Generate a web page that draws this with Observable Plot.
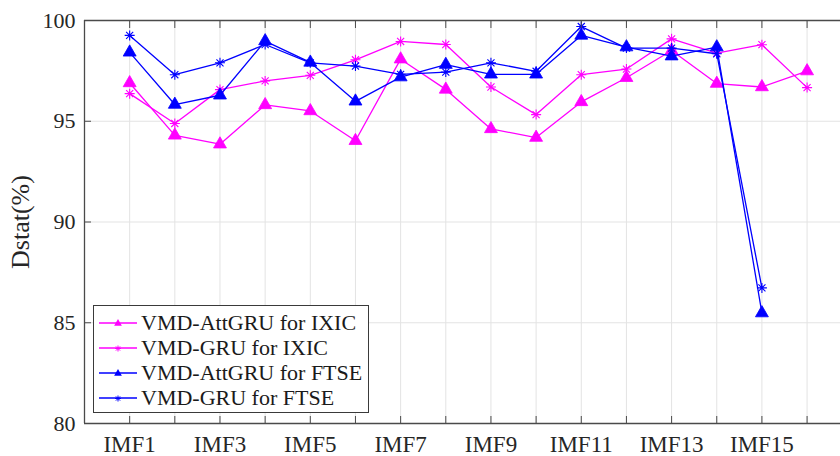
<!DOCTYPE html>
<html>
<head>
<meta charset="utf-8">
<script src="https://cdn.jsdelivr.net/npm/d3@7"></script>
<script src="https://cdn.jsdelivr.net/npm/@observablehq/plot@0.6"></script>
<style>
  html, body { margin: 0; padding: 0; background: #fff; }
  #wrap { position: relative; width: 840px; height: 456px; font-family: 'Liberation Serif', 'Times New Roman', serif; }
  #chart svg, #chart svg text { font-family: 'Liberation Serif', 'Times New Roman', serif !important; }
  #legend { position: absolute; left: 93px; top: 305px; width: 274px; height: 106px; border: 1px solid #3a3a3a; background: #fff; box-sizing: content-box; }
  #legend .row { position: absolute; left: 0; height: 25px; display: flex; align-items: center; color: #1a1a1a; white-space: nowrap; }
  #legend .row span { font-family: 'Liberation Serif', 'Times New Roman', serif !important; font-size: 22px; }
  #legend .row svg { margin-left: 5px; margin-right: 4px; }
</style>
</head>
<body>
<div id="wrap"><div id="chart"></div><div id="legend"></div></div>
<script>
const categories = ["IMF1","IMF2","IMF3","IMF4","IMF5","IMF6","IMF7","IMF8","IMF9","IMF10","IMF11","IMF12","IMF13","IMF14","IMF15","IMF16"];
const yTicks = [80, 85, 90, 95, 100];
const yLabel = "Dstat(%)";
const seriesNames = ["VMD-AttGRU for IXIC", "VMD-GRU for IXIC", "VMD-AttGRU for FTSE", "VMD-GRU for FTSE"];
const attGruIXIC = [96.90, 94.30, 93.86, 95.81, 95.51, 94.03, 98.08, 96.58, 94.62, 94.19, 95.96, 97.16, 98.51, 96.87, 96.70, 97.49];
const gruIXIC    = [96.37, 94.89, 96.57, 97.00, 97.28, 98.05, 98.96, 98.81, 96.70, 95.33, 97.31, 97.59, 99.09, 98.38, 98.80, 96.67];
const attGruFTSE = [98.42, 95.83, 96.29, 98.98, 97.92, 95.99, 97.19, 97.81, 97.33, 97.33, 99.26, 98.68, 98.23, 98.68, 85.48];
const gruFTSE    = [99.26, 97.31, 97.90, 98.81, 97.90, 97.74, 97.33, 97.44, 97.90, 97.48, 99.70, 98.63, 98.63, 98.35, 86.73];

const colors = ["#ff00ff", "#ff00ff", "#0000ff", "#0000ff"];
const symbolKinds = ["triangle", "asterisk", "triangle", "asterisk"];
const allSeries = [attGruIXIC, gruIXIC, attGruFTSE, gruFTSE];

const asterisk8 = {
  draw(ctx, size) {
    const r = Math.sqrt(size / Math.PI);
    const d = r * Math.SQRT1_2;
    ctx.moveTo(-r, 0); ctx.lineTo(r, 0);
    ctx.moveTo(0, -r); ctx.lineTo(0, r);
    ctx.moveTo(-d, -d); ctx.lineTo(d, d);
    ctx.moveTo(-d, d); ctx.lineTo(d, -d);
  }
};

const rows = allSeries.flatMap((vals, s) => vals.map((v, i) => ({series: seriesNames[s], s, x: i + 1, y: v})));
const idx = categories.map((c, i) => i + 1);

const axisColor = "#4a4a4a";
const gridColor = "#e3e3e3";
const font = "'Liberation Serif', 'Times New Roman', serif";

const marks = [
  Plot.ruleX(idx, {x: d => d, stroke: gridColor, strokeWidth: 1}),
  Plot.ruleY(yTicks.slice(1, -1), {y: d => d, stroke: gridColor, strokeWidth: 1}),
];
allSeries.forEach((vals, s) => {
  const data = rows.filter(r => r.s === s);
  marks.push(Plot.line(data, {x: "x", y: "y", stroke: colors[s], strokeWidth: 1.3}));
  if (symbolKinds[s] === "triangle") {
    marks.push(Plot.dot(data, {x: "x", y: "y", symbol: "triangle", r: 4.8, fill: colors[s], stroke: colors[s], strokeWidth: 0.8}));
  } else {
    marks.push(Plot.dot(data, {x: "x", y: "y", symbol: asterisk8, r: 5, fill: "none", stroke: colors[s], strokeWidth: 1.1}));
  }
});
marks.push(
  Plot.ruleY([yTicks[0], yTicks[yTicks.length - 1]], {y: d => d, stroke: axisColor, strokeWidth: 1.3}),
  Plot.ruleX([0], {x: d => d, stroke: axisColor, strokeWidth: 1.3}),
  Plot.axisX(idx, {anchor: "bottom", tickSize: -7, tickFormat: () => "", stroke: axisColor, label: null}),
  Plot.axisX(idx, {anchor: "top", tickSize: -7, tickFormat: () => "", stroke: axisColor, label: null}),
  Plot.axisX(idx.filter(d => d % 2 === 1), {anchor: "bottom", tickSize: 0, tickPadding: 12, tickFormat: d => categories[d - 1], fill: "#262626", fontSize: 23, label: null}),
  Plot.axisY(yTicks, {anchor: "left", tickSize: -7, stroke: axisColor, tickPadding: 16, fill: "#262626", fontSize: 22, label: null}),
  Plot.text([yLabel], {text: d => d, frameAnchor: "left", rotate: -90, dx: -64, fontSize: 26, fill: "#262626", textAnchor: "middle", lineAnchor: "middle"})
);

const chart = Plot.plot({
  width: 840,
  height: 456,
  marginLeft: 84,
  marginRight: 0,
  marginTop: 20,
  marginBottom: 33,
  style: {fontFamily: font, fontSize: "22px", color: "#262626", background: "#fff"},
  x: {type: "linear", domain: [0, 16.74], axis: null},
  y: {domain: [80, 100], axis: null},
  marks
});
document.getElementById("chart").appendChild(chart);

// Legend overlay
const legend = document.getElementById("legend");
seriesNames.forEach((name, s) => {
  const row = document.createElement("div");
  row.className = "row";
  row.style.top = (4 + s * 25) + "px";
  const ns = "http://www.w3.org/2000/svg";
  const svg = document.createElementNS(ns, "svg");
  svg.setAttribute("width", 38); svg.setAttribute("height", 20);
  const ln = document.createElementNS(ns, "line");
  ln.setAttribute("x1", 0); ln.setAttribute("x2", 38); ln.setAttribute("y1", 10); ln.setAttribute("y2", 10);
  ln.setAttribute("stroke", colors[s]); ln.setAttribute("stroke-width", 1.3);
  svg.appendChild(ln);
  const p = document.createElementNS(ns, "path");
  if (symbolKinds[s] === "triangle") {
    p.setAttribute("d", d3.symbol(d3.symbolTriangle, 26)());
    p.setAttribute("fill", colors[s]);
  } else {
    const path = d3.path();
    asterisk8.draw(path, Math.PI * 9);
    p.setAttribute("d", path.toString());
    p.setAttribute("fill", "none");
    p.setAttribute("stroke", colors[s]);
    p.setAttribute("stroke-width", 1);
  }
  p.setAttribute("transform", "translate(19,10.5)");
  svg.appendChild(p);
  row.appendChild(svg);
  const t = document.createElement("span");
  t.textContent = name;
  row.appendChild(t);
  legend.appendChild(row);
});
</script>
</body>
</html>
